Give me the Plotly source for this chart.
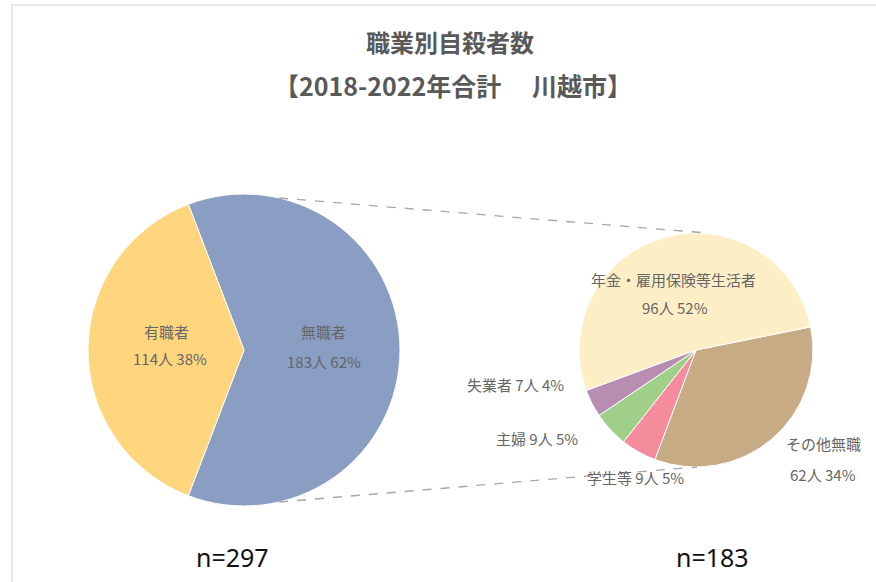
import math

import plotly.graph_objects as go

W, H = 876, 582

# main pie
main_labels = ["無職者", "有職者"]
main_values = [183, 114]
main_pct = ["62%", "38%"]
main_colors = ["#8A9DC2", "#FFD67E"]

# breakdown of 無職者
sub_labels = ["その他無職", "学生等", "主婦", "失業者", "年金・雇用保険等生活者"]
sub_values = [62, 9, 9, 7, 96]
sub_pct = ["34%", "5%", "5%", "4%", "52%"]
sub_colors = ["#C6AB85", "#F48C9D", "#9FCF88", "#B88DB2", "#FDEEC6"]

TITLE_1 = "職業別自殺者数"
TITLE_2 = "【2018-2022年合計　 川越市】"

JP = "Noto Sans CJK JP"
LABEL_FONT = dict(family=JP, size=15, color="#666666")

# pie boxes in pixels: (cx, cy, r)
LEFT = (244, 350, 156)
RIGHT = (696, 350, 117)


def dom(cx, cy, r):
    return dict(x=[(cx - r) / W, (cx + r) / W], y=[1 - (cy + r) / H, 1 - (cy - r) / H])


def px(x, y):
    return x / W, 1 - y / H


# first slice (無職者) centred on the east side
main_rot = 90 - main_values[0] / sum(main_values) * 180

fig = go.Figure()
fig.add_trace(
    go.Pie(
        labels=main_labels,
        values=main_values,
        sort=False,
        direction="clockwise",
        rotation=main_rot,
        marker=dict(colors=main_colors, line=dict(color="#FFFFFF", width=1)),
        textinfo="none",
        hoverinfo="label+value+percent",
        domain=dom(*LEFT),
        showlegend=False,
    )
)
fig.add_trace(
    go.Pie(
        labels=sub_labels,
        values=sub_values,
        sort=False,
        direction="clockwise",
        rotation=78.6,
        marker=dict(colors=sub_colors, line=dict(color="#FFFFFF", width=1)),
        textinfo="none",
        hoverinfo="label+value+percent",
        domain=dom(*RIGHT),
        showlegend=False,
    )
)

annotations = []


def note(text, x, y, font=LABEL_FONT):
    ax, ay = px(x, y)
    annotations.append(
        dict(text=text, x=ax, y=ay, xref="paper", yref="paper", showarrow=False,
             xanchor="center", yanchor="middle", font=font)
    )


note(f"<b>{TITLE_1}</b>", 450, 42, dict(family=JP, size=24, color="#595959"))
note(f"<b>{TITLE_2}</b>", 453, 85, dict(family=JP, size=25, color="#595959"))

# main pie labels
note(main_labels[1], 166, 331)
note(f"{main_values[1]}人 {main_pct[1]}", 170, 358)
note(main_labels[0], 323, 331)
note(f"{main_values[0]}人 {main_pct[0]}", 324, 361)

# sub pie labels
note(sub_labels[4], 673, 279)
note(f"{sub_values[4]}人 {sub_pct[4]}", 675, 307)
note(f"{sub_labels[3]} {sub_values[3]}人 {sub_pct[3]}", 515, 384)
note(f"{sub_labels[2]} {sub_values[2]}人 {sub_pct[2]}", 537, 438)
note(f"{sub_labels[1]} {sub_values[1]}人 {sub_pct[1]}", 635, 477)
note(sub_labels[0], 823, 443)
note(f"{sub_values[0]}人 {sub_pct[0]}", 823, 474)

note(f"n={sum(main_values)}", 232, 557, dict(family="Noto Sans", size=25, color="#111111"))
note(f"n={sum(sub_values)}", 712, 557, dict(family="Noto Sans", size=25, color="#111111"))

# connector lines between the two pies
shapes = []
lcx, lcy, lr = LEFT
rcx, rcy, rr = RIGHT
a = math.radians(77)
for sgn, end_dx in ((-1, 11), (1, 1)):
    x0, y0 = px(lcx + lr * math.cos(a), lcy + sgn * lr * math.sin(a))
    x1, y1 = px(rcx + end_dx, rcy + sgn * rr)
    shapes.append(
        dict(type="line", xref="paper", yref="paper", x0=x0, y0=y0, x1=x1, y1=y1,
             line=dict(color="#A6A6A6", width=1.3, dash="dash"))
    )

# faint chart-area border
bx0, by0 = px(12, 5)
shapes.append(
    dict(type="rect", xref="paper", yref="paper", x0=bx0, y0=-0.1, x1=1.1, y1=by0,
         line=dict(color="#E2E2E2", width=1.5), fillcolor="rgba(0,0,0,0)", layer="below")
)

fig.update_layout(
    width=W,
    height=H,
    margin=dict(l=0, r=0, t=0, b=0),
    paper_bgcolor="#FFFFFF",
    plot_bgcolor="#FFFFFF",
    annotations=annotations,
    shapes=shapes,
    font=dict(family=JP, color="#595959"),
)

fig.write_html(
    "out.html",
    config={"displayModeBar": False},
    post_script="document.body.style.margin='0';",
)
